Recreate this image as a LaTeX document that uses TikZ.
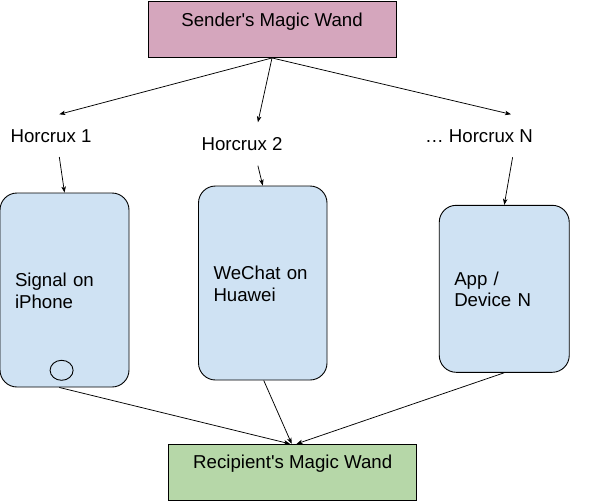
\documentclass[tikz,border=0pt]{standalone}
\usepackage{fontspec}
\setmainfont{Liberation Sans}[Ligatures=TeXOff]
\usetikzlibrary{arrows.meta,calc,shapes.geometric}
\definecolor{senderpink}{HTML}{D5A6BD}
\definecolor{phoneblue}{HTML}{CFE2F3}
\definecolor{recgreen}{HTML}{B6D7A8}
\newcommand{\phonetext}[2]{\raisebox{-3pt}[\height][\depth]{\begin{tabular}{@{}l@{}}#1\\#2\end{tabular}}}
\begin{document}
\begin{tikzpicture}[x=1pt,y=-1pt,
  every node/.style={font=\fontsize{18.67}{21.6}\selectfont},
  wand/.style={draw=black,line width=0.9pt,minimum width=248pt,inner xsep=0pt,inner ysep=0pt},
  phone/.style={draw=black,line width=0.9pt,fill=phoneblue,rounded corners=17pt,align=left,inner xsep=15pt,inner ysep=0pt,anchor=center},
  lbl/.style={inner sep=0pt,anchor=base},
  conn/.style={draw=black,line width=0.75pt,-{Stealth[length=6pt,width=4.5pt,inset=1.5pt]}},
  homebtn/.style={draw=black,line width=0.9pt,ellipse,minimum width=23pt,minimum height=20pt,inner sep=0pt}
]
\useasboundingbox (0,0) rectangle (608,501);
% boxes
\node[wand,fill=senderpink,text height=24.5pt,text depth=31.5pt] (sender) at (272,29.5) {Sender's Magic Wand};
\node[wand,fill=recgreen,text height=23.7pt,text depth=32.3pt] (rec) at (292.7,472.3) {Recipient's Magic Wand};
% labels
\node[lbl] (h1) at (51,142) {Horcrux 1};
\node[lbl] (h2) at (242,150) {Horcrux 2};
\node[lbl] (hn) at (479,142) {… Horcrux N};
% phones
\node[phone,minimum width=129pt,minimum height=194pt,text width=99pt] (p1) at (64.5,290) {\phonetext{Signal on}{iPhone}};
\node[phone,minimum width=128.5pt,minimum height=194pt,text width=98.5pt] (p2) at (262.75,283) {\phonetext{WeChat on}{Huawei}};
\node[phone,minimum width=130pt,minimum height=167pt,text width=100pt] (p3) at (504.25,288.8) {\phonetext{App /}{Device N}};
\node[homebtn] (btn) at (61.6,370.3) {};
% arrow end points near labels
\coordinate (h1in) at (59.3,114.3);
\coordinate (h2in) at (257.9,122.3);
\coordinate (hnin) at (511,114.3);
\coordinate (h1out) at (59.3,157);
\coordinate (h2out) at (257.9,165.7);
\coordinate (hnout) at (512.6,157.3);
% connectors
\draw[conn] (sender.south) -- (h1in);
\draw[conn] (sender.south) -- (h2in);
\draw[conn] (sender.south) -- (hnin);
\draw[conn] (h1out) -- (p1.north);
\draw[conn] (h2out) -- (p2.north);
\draw[conn] (hnout) -- (p3.north);
\draw[conn] ([xshift=-5.2pt]p1.south) -- ([xshift=-2.7pt]rec.north);
\draw[conn] ([xshift=1pt]p2.south) -- ([xshift=-1pt]rec.north);
\draw[conn] (p3.south) -- ([xshift=3.9pt]rec.north);
\end{tikzpicture}
\end{document}
